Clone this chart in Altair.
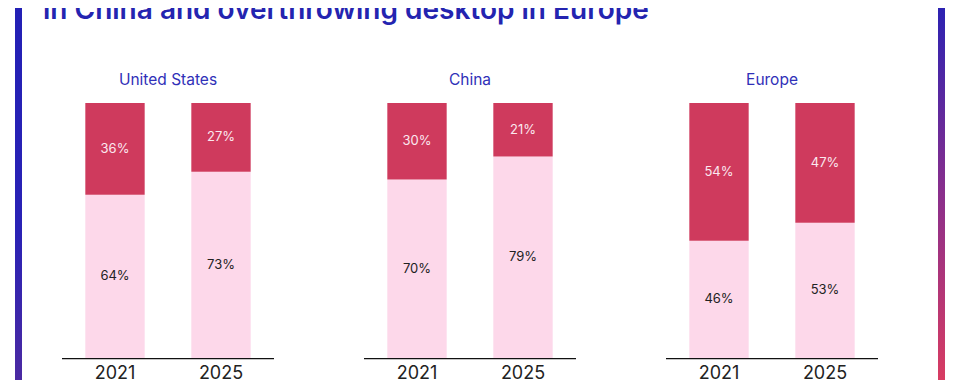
import altair as alt
import pandas as pd

# ---- data ----
regions = ["United States", "China", "Europe"]
years = ["2021", "2025"]
light_share = [64, 73, 70, 79, 46, 53]   # bottom (light pink) segment
dark_share = [36, 27, 30, 21, 54, 47]    # top (dark) segment
title_text = "in China and overthrowing desktop in Europe"

rows = []
i = 0
for r in regions:
    for y in years:
        rows.append({"region": r, "year": y, "type": "light", "order": 0, "value": light_share[i]})
        rows.append({"region": r, "year": y, "type": "dark", "order": 1, "value": dark_share[i]})
        i += 1
df = pd.DataFrame(rows)
df["label"] = df["value"].astype(str) + "%"

year_df = pd.DataFrame([{"region": r, "year": y} for r in regions for y in years])
region_df = pd.DataFrame({"region": regions})
one = pd.DataFrame({"a": [0]})

FONT = "Inter"
DARK = "#cf3a5d"
LIGHT = "#fdd8ea"
BLUE = "#2424b0"

x_enc = alt.X("region:N", sort=regions, axis=None,
              scale=alt.Scale(paddingInner=90 / 302, paddingOuter=0))
xo_enc = alt.XOffset("year:N", sort=years,
                     scale=alt.Scale(paddingInner=0.44, paddingOuter=0.22))
y_scale = alt.Scale(domain=[0, 100])

base = alt.Chart(df).transform_stack(
    stack="value", groupby=["region", "year"], as_=["y0", "y1"],
    sort=[alt.SortField("order", order="ascending")]
).transform_calculate(mid="(datum.y0 + datum.y1) / 2")

bars = base.mark_bar().encode(
    x=x_enc, xOffset=xo_enc,
    y=alt.Y("y0:Q", scale=y_scale, axis=None),
    y2="y1:Q",
    color=alt.Color("type:N", scale=alt.Scale(domain=["light", "dark"], range=[LIGHT, DARK]), legend=None),
)

labels_dark = base.transform_filter(alt.datum.type == "dark").mark_text(
    font=FONT, fontSize=13, color="#fbe8ef", baseline="middle"
).encode(x=x_enc, xOffset=xo_enc, y=alt.Y("mid:Q", scale=y_scale, axis=None), text="label:N")

labels_light = base.transform_filter(alt.datum.type == "light").mark_text(
    font=FONT, fontSize=13, color="#222222", baseline="middle"
).encode(x=x_enc, xOffset=xo_enc, y=alt.Y("mid:Q", scale=y_scale, axis=None), text="label:N")

axis_line = alt.Chart(region_df).mark_bar(color="#111111").encode(
    x=x_enc, y=alt.value(255), y2=alt.value(256.2)
)

year_labels = alt.Chart(year_df).mark_text(
    font=FONT, fontSize=18, color="#222222", baseline="alphabetic"
).encode(x=x_enc, xOffset=xo_enc, y=alt.value(276), text="year:N")

region_titles = alt.Chart(region_df).mark_text(
    font=FONT, fontSize=15.5, color="#3030b8", baseline="alphabetic"
).encode(x=x_enc, y=alt.value(-18), text="region:N")

title = alt.Chart(one).mark_text(
    text=title_text, font=FONT, fontSize=28, fontWeight=600, color=BLUE,
    align="left", baseline="alphabetic"
).encode(x=alt.value(-19), y=alt.value(-84))

grad_left = alt.LinearGradient(
    gradient="linear", x1=0, x2=0, y1=0, y2=1,
    stops=[alt.GradientStop(color="#2320b5", offset=0),
           alt.GradientStop(color="#2a22b5", offset=0.6),
           alt.GradientStop(color="#4b2aa2", offset=1)])
grad_right = alt.LinearGradient(
    gradient="linear", x1=0, x2=0, y1=0, y2=1,
    stops=[alt.GradientStop(color="#2c22b2", offset=0),
           alt.GradientStop(color="#8a2f8c", offset=0.5),
           alt.GradientStop(color="#d83c62", offset=1)])

border_left = alt.Chart(one).mark_rect(fill=grad_left).encode(
    x=alt.value(-47), x2=alt.value(-40), y=alt.value(-95), y2=alt.value(277)
)
border_right = alt.Chart(one).mark_rect(fill=grad_right).encode(
    x=alt.value(876), x2=alt.value(883), y=alt.value(-95), y2=alt.value(277)
)

chart = alt.layer(
    border_left, border_right, title, region_titles,
    bars, labels_dark, labels_light, axis_line, year_labels
).properties(
    width=816, height=255,
    autosize=alt.AutoSizeParams(type="none"),
    padding={"left": 54, "top": 95, "right": 74, "bottom": 22},
).configure_view(stroke=None)

chart.save("out.html", embed_options={"renderer": "svg", "actions": False})
